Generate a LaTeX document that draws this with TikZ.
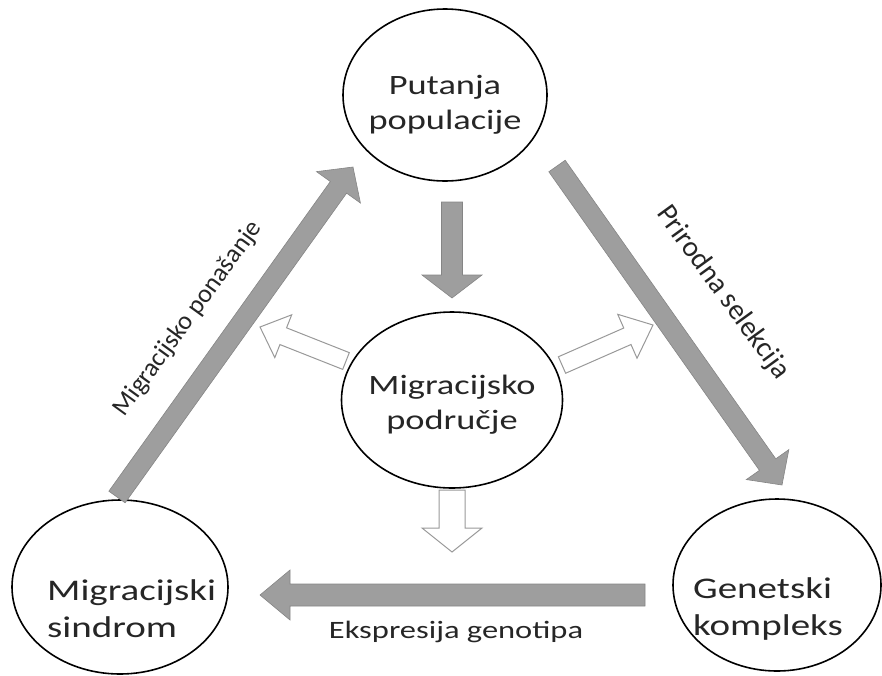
\documentclass[tikz,border=0pt]{standalone}
\usepackage{fontspec}
\setmainfont{Carlito}
\usetikzlibrary{calc,positioning,shapes.geometric}

\tikzset{
  circ/.style={draw=black, line width=1.6pt, ellipse, inner sep=0pt},
  fat/.style={fill=black!38, draw=black!48, line width=0.6pt},
  hollow/.style={fill=white, draw=black!40, line width=1pt},
  lbl/.style={text=black!85, inner sep=0pt, font=\fontsize{28}{35}\selectfont},
  elbl/.style={text=black!85, inner sep=0pt, font=\fontsize{26}{30}\selectfont},
}

% wide text block (the picture is stretched sideways)
\newcommand{\wide}[2][c]{\scalebox{1.3}[1]{\begin{tabular}{@{}#1@{}}#2\end{tabular}}}

% block arrow: [style]{from}{to}{half shaft}{half head}{head length}
\newcommand{\blockarrow}[6][]{%
  \coordinate (ba-h) at ($(#3)!#6!(#2)$);
  \draw[#1] ($(#2)!#4!90:(#3)$) -- ($(ba-h)!#4!-90:(#2)$)
    -- ($(ba-h)!#5!-90:(#2)$) -- (#3) -- ($(ba-h)!#5!90:(#2)$)
    -- ($(ba-h)!#4!90:(#2)$) -- ($(#2)!#4!-90:(#3)$) -- cycle;
}

\begin{document}
\begin{tikzpicture}[x=1pt,y=-1pt]
  \useasboundingbox (0,0) rectangle (882,675);

  % the four ellipses
  \node[circ, minimum width=204pt, minimum height=172pt] (putanja) at (445,95) {};
  \node[circ, minimum width=221pt, minimum height=176pt] (podrucje) at (452,400) {};
  \node[circ, minimum width=216pt, minimum height=174pt] (sindrom) at (120,587) {};
  \node[circ, minimum width=208pt, minimum height=172pt] (kompleks) at (777,585) {};

  \node[lbl] (putanja-t) at (445,105) {\wide{Putanja\\populacije}};
  \node[lbl] (podrucje-t) at (452,405) {\wide{Migracijsko\\područje}};
  \node[lbl, anchor=west, font=\fontsize{30}{37}\selectfont] (sindrom-t) at (47,612) {\wide[l]{Migracijski\\sindrom}};
  \node[lbl, anchor=west, font=\fontsize{30}{37}\selectfont] (kompleks-t) at (693,610) {\wide[l]{Genetski\\kompleks}};

  % arrow ends
  \coordinate (pp-a) at (452,202);
  \coordinate (pp-b) at (452,298);
  \coordinate (mp-a) at (117,497);
  \coordinate (mp-b) at (353,167);
  \coordinate (ps-a) at (557,166);
  \coordinate (ps-b) at (782,485);
  \coordinate (eg-a) at (645,595);
  \coordinate (eg-b) at (260,595);
  \coordinate (hl-a) at (346,361);
  \coordinate (hl-b) at (260,327);
  \coordinate (hr-a) at (562,365);
  \coordinate (hr-b) at (653,325);
  \coordinate (hd-a) at (452,490);
  \coordinate (hd-b) at (452,552);

  % grey arrows
  \blockarrow[fat]{pp-a}{pp-b}{10.5pt}{30pt}{23pt}
  \blockarrow[fat]{mp-a}{mp-b}{10pt}{27pt}{25pt}
  \blockarrow[fat]{ps-a}{ps-b}{10pt}{26pt}{25pt}
  \blockarrow[fat]{eg-a}{eg-b}{11pt}{25pt}{30pt}

  % open arrows
  \blockarrow[hollow]{hl-a}{hl-b}{9pt}{23pt}{25pt}
  \blockarrow[hollow]{hr-a}{hr-b}{9pt}{24pt}{28pt}
  \blockarrow[hollow]{hd-a}{hd-b}{13pt}{30pt}{24pt}

  \node[elbl, rotate=54] (ponasanje) at (188,319) {Migracijsko ponašanje};
  \node[elbl, rotate=-54, font=\fontsize{29}{32}\selectfont] (selekcija) at (723,293) {Prirodna selekcija};
  \node[elbl, anchor=base, font=\fontsize{25}{30}\selectfont] (ekspresija) at (456,638) {\scalebox{1.3}[1]{Ekspresija genotipa}};
\end{tikzpicture}
\end{document}
